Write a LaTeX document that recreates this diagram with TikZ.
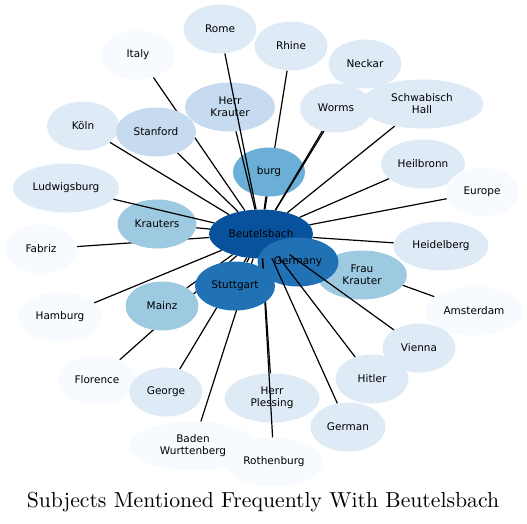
\documentclass[tikz,border=0pt]{standalone}
\usepackage{fontspec}
\newfontfamily\labelfont{DejaVu Sans}
\newfontfamily\titlefont{lmroman10-regular.otf}
\usetikzlibrary{shapes.geometric}
\pgfdeclarelayer{back}
\pgfdeclarelayer{front}
\pgfdeclarelayer{top}
\pgfsetlayers{back,main,front,top}
\definecolor{blues1}{HTML}{F7FBFF}
\definecolor{blues2}{HTML}{DEEBF7}
\definecolor{blues3}{HTML}{C6DBEF}
\definecolor{blues4}{HTML}{9ECAE1}
\definecolor{blues5}{HTML}{6BAED6}
\definecolor{blues6}{HTML}{2171B5}
\definecolor{blues7}{HTML}{08519C}

\begin{document}
\begin{tikzpicture}[x=1pt, y=-1pt,
    bubble/.style={ellipse, inner sep=0pt, minimum height=49pt, align=center,
        font=\labelfont\fontsize{10.5}{12}\selectfont},
    link/.style={line width=1.2pt}]
    \useasboundingbox (0,0) rectangle (527,523);
    % subjects
    \foreach \n/\t/\x/\y/\w/\c in {
        rome/Rome/220/29/73/blues2, rhine/Rhine/291/46/73/blues2,
        italy/Italy/138/55/73/blues1, neckar/Neckar/365/64/73/blues2,
        herrkrauter/{Herr\\Krauter}/230/107/90/blues3,
        schwabisch/{Schwabisch\\Hall}/422/104/123/blues2,
        koeln/Köln/83/126/72/blues2, stanford/Stanford/156/132/80/blues3,
        heilbronn/Heilbronn/423/164/84/blues2, burg/burg/269/172/72/blues5,
        europe/Europe/482/192/73/blues1, ludwigsburg/Ludwigsburg/66/188/106/blues2,
        krauters/Krauters/157/224/79/blues4, heidelberg/Heidelberg/441/246/95/blues2,
        fabriz/Fabriz/41/249/72/blues1, fraukrauter/{Frau\\Krauter}/362/275/90/blues4,
        beut/Beutelsbach/261/234/104/blues7, germany/Germany/298/262/81/blues6,
        amsterdam/Amsterdam/474/311/97/blues1, hamburg/Hamburg/60/317/83/blues1,
        mainz/Mainz/162/306/73/blues4, vienna/Vienna/419/348/73/blues2,
        hitler/Hitler/372/379/73/blues2, florence/Florence/97/380/79/blues1,
        george/George/166/392/73/blues2, plessing/{Herr\\Plessing}/272/398/95/blues2,
        german/German/348/427/75/blues2, baden/{Baden\\Wurttenberg}/193/446/128/blues1,
        rothenburg/Rothenburg/274/462/97/blues1}
        \node[bubble, fill=\c, minimum width=\w pt] (\n) at (\x,\y) {\t};
    \begin{pgfonlayer}{top}
        \foreach \n/\t/\x/\y/\w/\c in {
            worms/Worms/336/108/72/blues2, stuttgart/Stuttgart/235/286/80/blues6}
            \node[bubble, fill=\c, minimum width=\w pt] (\n) at (\x,\y) {\t};
    \end{pgfonlayer}
    % links
    \begin{pgfonlayer}{back}
        \foreach \n in {italy,fabriz,rhine,florence,fraukrauter,amsterdam,germany,stuttgart}
            \draw[link] (beut) -- (\n);
    \end{pgfonlayer}
    \begin{pgfonlayer}{front}
        \foreach \n in {rome,neckar,herrkrauter,worms,schwabisch,koeln,stanford,
            heilbronn,burg,europe,ludwigsburg,krauters,heidelberg,hamburg,mainz,
            vienna,hitler,george,plessing,german,baden,rothenburg}
            \draw[link] (beut) -- (\n);
    \end{pgfonlayer}
    \node[font=\titlefont\fontsize{21.7}{26}\selectfont, anchor=base] (title) at (263,507)
        {Subjects Mentioned Frequently With Beutelsbach};
\end{tikzpicture}
\end{document}
